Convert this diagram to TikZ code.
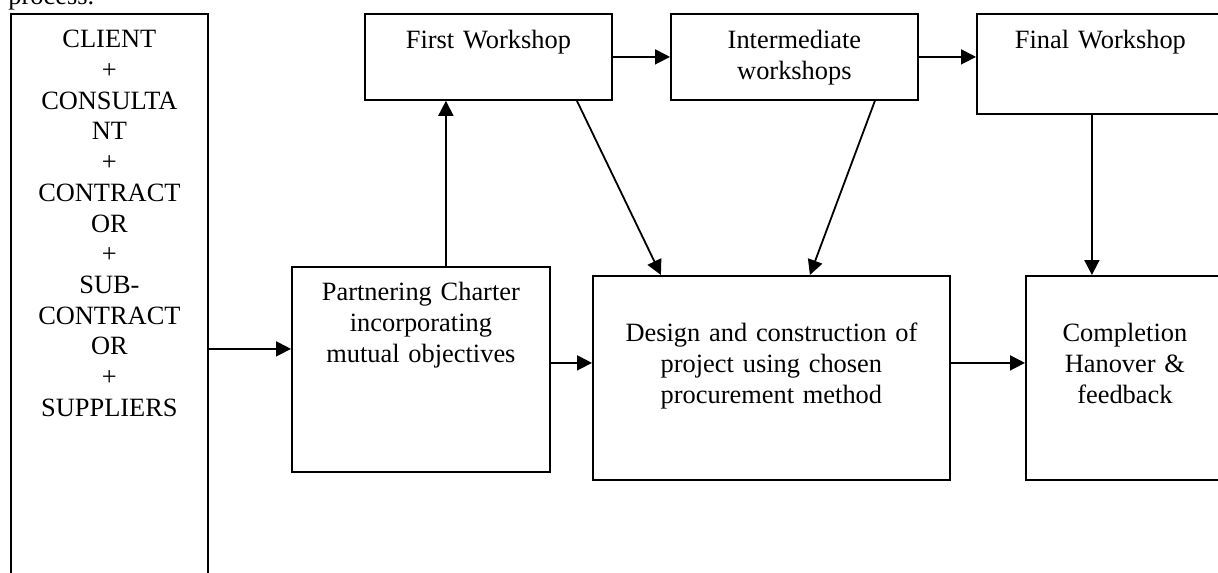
\documentclass[tikz,border=0pt]{standalone}
\usepackage{fontspec}
\setmainfont{Liberation Serif}
\usepackage{tikz}
\usetikzlibrary{arrows.meta}

\begin{document}
\begin{tikzpicture}[
    x=0.5pt,
    y=-0.5pt,
    font=\fontsize{13.2pt}{15.35pt}\selectfont,
    stage/.style={
        draw,
        line width=0.9pt,
        align=center,
        anchor=north west,
        inner xsep=5pt,
        inner ysep=0pt
    },
    flow/.style={
        -{Triangle[length=7.5pt,width=7.5pt]},
        line width=0.9pt
    }
]

\path[use as bounding box, clip] (0,0) rectangle (1218,572);

% caption cut off by the page top
\node[anchor=base west, inner sep=0pt] (caption) at (8,4.5) {process.};

% Left column
\node[stage, text width=88.5pt, text height=17pt, text depth=326.5pt] (parties) at (10,13) {
    CLIENT\\ +\\ CONSULTA\\ NT\\ +\\ CONTRACT\\ OR\\ +\\ SUB-\\ CONTRACT\\ OR\\ +\\ SUPPLIERS
};

% Workshops row
\node[stage, text width=113.5pt, text height=17.5pt, text depth=25.5pt] (first) at (364,13) {
    First Workshop
};

\node[stage, text width=113.5pt, text height=17.5pt, text depth=25.5pt] (inter) at (670,13) {
    Intermediate\\ workshops
};

\node[stage, text width=113.5pt, text height=17.5pt, text depth=32.5pt] (final) at (976,13) {
    Final Workshop
};

% Main row
\node[stage, text width=119pt, text height=17pt, text depth=85.5pt] (charter) at (291,266) {
    Partnering Charter\\ incorporating\\ mutual objectives
};

\node[stage, text width=168.5pt, text height=33pt, text depth=69pt] (design) at (592,275) {
    Design and construction of\\ project using chosen\\ procurement method
};

\node[stage, text width=89pt, text height=33pt, text depth=69pt] (completion) at (1025,275) {
    Completion\\ Hanover \&\\ feedback
};

% Straight flows
\draw[flow]
    ([yshift=10.25pt]charter.west -| parties.east)
    --
    ([yshift=10.25pt]charter.west);

\draw[flow]
    ([xshift=12.5pt]charter.north)
    --
    ([xshift=12.5pt]charter.north |- first.south);

\draw[flow]
    ([yshift=3.25pt]charter.east)
    --
    ([yshift=3.25pt]charter.east -| design.west);

\draw[flow]
    ([yshift=7.5pt]design.east)
    --
    ([yshift=7.5pt]design.east -| completion.west);

\draw[flow] (first.east) -- (inter.west);

\draw[flow] (inter.east) -- (inter.east -| final.west);

\draw[flow]
    ([xshift=-4.25pt]final.south)
    --
    ([xshift=-4.25pt]final.south |- completion.north);

% Workshops feeding the design stage
\draw[flow]
    ([xshift=44.25pt]first.south)
    --
    ([xshift=-55.25pt]design.north);

\draw[flow]
    ([xshift=40.25pt]inter.south)
    --
    ([xshift=19.25pt]design.north);

\end{tikzpicture}
\end{document}
